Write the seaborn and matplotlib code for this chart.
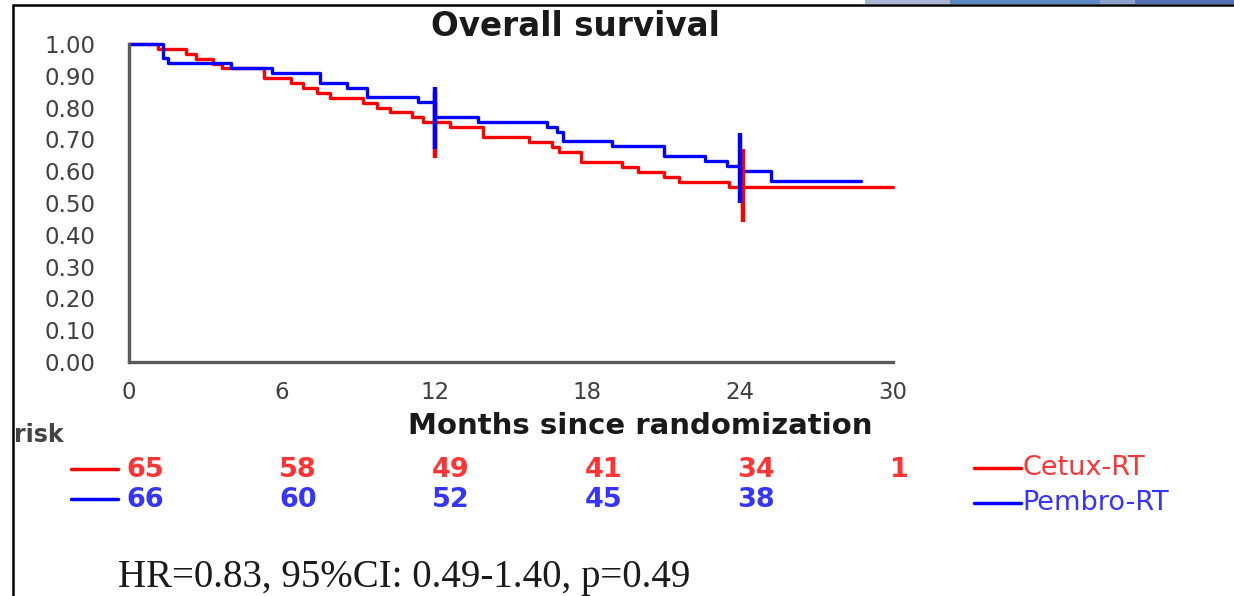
import matplotlib
matplotlib.use("Agg")
import matplotlib.pyplot as plt
import seaborn as sns
import pandas as pd
from matplotlib.transforms import blended_transform_factory
from matplotlib.lines import Line2D
from matplotlib.patches import Rectangle

# ---------------- data ----------------
arm_names = ["Cetux-RT", "Pembro-RT"]
arm_colors = ["#ff0000", "#0000ff"]
text_colors = ["#ff3535", "#3535ff"]

cetux_time = [0, 1.15, 2.25, 2.65, 3.3, 3.65, 5.3, 6.35, 6.85, 7.4, 7.9, 9.2,
              9.75, 10.25, 11.1, 11.55, 12.6, 13.9, 15.7, 16.6, 16.9, 17.75,
              19.35, 20.0, 21.0, 21.6, 23.55, 30.0]
cetux_surv = [1.0, 0.985, 0.969, 0.954, 0.938, 0.923, 0.892, 0.877, 0.862, 0.846,
              0.831, 0.815, 0.800, 0.785, 0.769, 0.754, 0.738, 0.707, 0.691, 0.675,
              0.659, 0.628, 0.612, 0.597, 0.581, 0.565, 0.551, 0.551]

pembro_time = [0, 1.33, 1.55, 4.0, 5.6, 7.5, 8.55, 9.35, 11.35, 12.0, 13.7,
               16.4, 16.8, 17.05, 18.95, 21.0, 22.6, 23.5, 24.0, 25.2, 28.75]
pembro_surv = [1.0, 0.955, 0.939, 0.924, 0.908, 0.878, 0.862, 0.833, 0.818, 0.771,
               0.756, 0.740, 0.724, 0.694, 0.678, 0.647, 0.632, 0.616, 0.600, 0.570,
               0.570]

cetux_ci_time = [12.0, 24.1]
cetux_ci_low = [0.64, 0.44]
cetux_ci_high = [0.85, 0.67]
pembro_ci_time = [12.0, 24.0]
pembro_ci_low = [0.67, 0.50]
pembro_ci_high = [0.865, 0.72]

risk_times = [0, 6, 12, 18, 24, 30]
cetux_risk = [65, 58, 49, 41, 34, 1]
pembro_risk = [66, 60, 52, 45, 38]

x_ticks = [0, 6, 12, 18, 24, 30]
y_ticks = [0.0, 0.1, 0.2, 0.3, 0.4, 0.5, 0.6, 0.7, 0.8, 0.9, 1.0]

title_text = "Overall survival"
xlabel_text = "Months since randomization"
risk_label = "risk"
hr_text = "HR=0.83, 95%CI: 0.49-1.40, p=0.49"

# ---------------- style ----------------
sns.set_style("white")
plt.rcParams['font.family'] = ['DejaVu Sans']

fig = plt.figure(figsize=(12.34, 5.96), dpi=100)
fig.patch.set_facecolor("white")
ax = fig.add_axes([129 / 1234, 1 - 362 / 596, (893 - 129) / 1234, (362 - 44) / 596])

df = pd.concat([
    pd.DataFrame({"time": cetux_time, "surv": cetux_surv, "arm": arm_names[0]}),
    pd.DataFrame({"time": pembro_time, "surv": pembro_surv, "arm": arm_names[1]}),
], ignore_index=True)

sns.lineplot(data=df, x="time", y="surv", hue="arm", hue_order=arm_names,
             palette=dict(zip(arm_names, arm_colors)), estimator=None, sort=False,
             drawstyle="steps-post", lw=2.4, legend=False, ax=ax)
for ln in ax.lines:
    ln.set_clip_on(False)

# confidence-interval bars
ax.vlines(cetux_ci_time, cetux_ci_low, cetux_ci_high,
          color=arm_colors[0], lw=3.2, clip_on=False, zorder=3)
ax.vlines(pembro_ci_time, pembro_ci_low, pembro_ci_high,
          color=arm_colors[1], lw=3.2, clip_on=False, zorder=4)

ax.set_xlim(0, 30)
ax.set_ylim(0, 1)
ax.set_xticks(x_ticks)
ax.set_yticks(y_ticks)
ax.set_yticklabels([f"{v:.2f}" for v in y_ticks])
ax.set_xlabel("")
ax.set_ylabel("")
for s in ["top", "right"]:
    ax.spines[s].set_visible(False)
for s in ["left", "bottom"]:
    ax.spines[s].set_color("#5a5a5a")
    ax.spines[s].set_linewidth(2.4)
ax.tick_params(axis="y", direction="out", length=10, width=2, color="#5a5a5a",
               pad=14, labelsize=16.5, labelcolor="#404040")
ax.tick_params(axis="x", direction="out", length=4, width=2, color="#5a5a5a",
               pad=10, labelsize=16.5, labelcolor="#404040")
ax.set_facecolor("white")

# title and axis label
fig.text(575 / 1234, 1 - 26 / 596, title_text, ha="center", va="center",
         fontsize=23.5, fontweight="bold", color="#1a1a1a")
fig.text(640 / 1234, 1 - 426 / 596, xlabel_text, ha="center", va="center",
         fontsize=21, fontweight="bold", color="#1a1a1a")

# number at risk table
fig.text(14 / 1234, 1 - 435 / 596, risk_label, ha="left", va="center",
         fontsize=17, fontweight="bold", color="#444444")
trans = blended_transform_factory(ax.transData, fig.transFigure)
row_y = [1 - 470 / 596, 1 - 500 / 596]
for t, n in zip(risk_times, cetux_risk):
    ax.text(t - 0.1, row_y[0], str(n), transform=trans, ha="left", va="center",
            fontsize=19.5, fontweight="bold", color=text_colors[0])
for t, n in zip(risk_times, pembro_risk):
    ax.text(t - 0.1, row_y[1], str(n), transform=trans, ha="left", va="center",
            fontsize=19.5, fontweight="bold", color=text_colors[1])
for y, c in zip([1 - 469 / 596, 1 - 499 / 596], arm_colors):
    fig.add_artist(Line2D([71 / 1234, 118 / 1234], [y, y], color=c, lw=2.5))

# legend at right
leg_y = [1 - 468 / 596, 1 - 503 / 596]
for y, c, tc, name in zip(leg_y, arm_colors, text_colors, arm_names):
    fig.add_artist(Line2D([974 / 1234, 1021 / 1234], [y, y], color=c, lw=2.5))
    fig.text(1022 / 1234, y, name, ha="left", va="center", fontsize=19.5,
             color=tc)

# hazard ratio note
fig.text(118 / 1234, 1 - 577 / 596, hr_text, ha="left", va="center", fontsize=28,
         color="#1a1a1a", family=["Liberation Serif", "DejaVu Serif"])

# slide frame
fig.add_artist(Line2D([13 / 1234, 13 / 1234], [0, 1 - 5 / 596], color="black", lw=1.8))
fig.add_artist(Line2D([13 / 1234, 1], [1 - 5 / 596, 1 - 5 / 596], color="black", lw=1.8))
band = [(865, 950, "#aab6d6"), (950, 1100, "#5a8ac4"), (1100, 1135, "#8ba2cd"),
        (1135, 1234, "#5572b9")]
for x0, x1, c in band:
    fig.add_artist(Rectangle((x0 / 1234, 1 - 4 / 596), (x1 - x0) / 1234, 4 / 596,
                             transform=fig.transFigure, color=c, lw=0))

fig.savefig("out.png", dpi=100, facecolor="white")
